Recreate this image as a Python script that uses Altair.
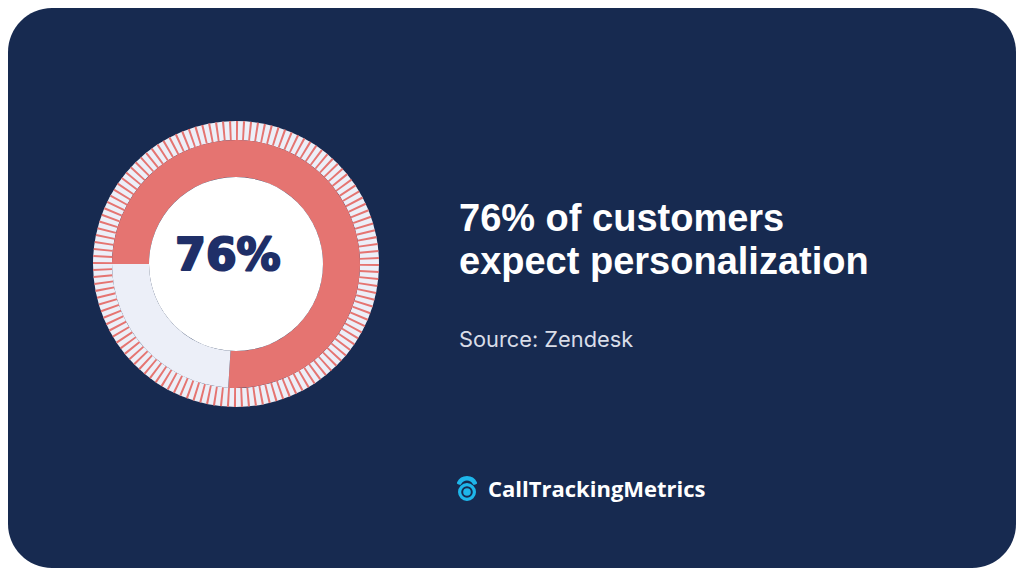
import altair as alt
import pandas as pd

# ---- data ----
categories = ["Expect personalization", "Other"]
shares = [76, 24]
center_label = ["76%"]
headline = ["76% of customers", "expect personalization"]
source_label = ["Source: Zendesk"]
brand = ["CallTrackingMetrics"]
n_ticks = 128
tick_index = list(range(n_ticks))

# ---- styles ----
W, H = 1008, 560
NAVY = "#172A50"
RED = "#E57471"
LIGHT = "#ECEFF8"
TEXT_NAVY = "#1F2F68"
CYAN = "#1EB6EA"
CX, CY = 228, 256
TAU = 6.283185307

one = pd.DataFrame({"k": [0]})

bg = alt.Chart(one).mark_rect(color=NAVY, cornerRadius=44).encode(
    x=alt.value(0), x2=alt.value(W), y=alt.value(0), y2=alt.value(H)
)

ring = alt.Chart(one).mark_arc(
    outerRadius=143, innerRadius=124, theta=0, theta2=TAU, color=LIGHT
).encode(x=alt.value(CX), y=alt.value(CY))

tick_df = pd.DataFrame({"t": tick_index})
ticks = alt.Chart(tick_df).transform_calculate(t2="datum.t + 0.3").mark_arc(
    outerRadius=143, innerRadius=124, color=RED
).encode(
    theta=alt.Theta("t:Q", scale=alt.Scale(domain=[0, n_ticks], range=[0, TAU])),
    theta2="t2:Q",
    x=alt.value(CX), y=alt.value(CY),
)

donut_df = pd.DataFrame({"category": categories, "share": shares, "rank": [0, 1]})
donut = alt.Chart(donut_df).mark_arc(outerRadius=124, innerRadius=87).encode(
    theta=alt.Theta("share:Q", stack=True,
                    scale=alt.Scale(domain=[0, sum(shares)], range=[4.712389, 4.712389 + TAU])),
    color=alt.Color("category:N", scale=alt.Scale(domain=categories, range=[RED, LIGHT]), legend=None),
    order=alt.Order("rank:Q"),
    x=alt.value(CX), y=alt.value(CY),
)

hole = alt.Chart(one).mark_arc(
    outerRadius=87, innerRadius=0, theta=0, theta2=TAU, color="white"
).encode(x=alt.value(CX), y=alt.value(CY))

center = alt.Chart(pd.DataFrame({"label": center_label})).mark_text(
    font="DejaVu Sans", fontWeight="bold", fontSize=44, color=TEXT_NAVY,
    stroke=TEXT_NAVY, strokeWidth=2.2, strokeJoin="round",
    align="center", baseline="alphabetic"
).encode(text="label:N", x=alt.value(220), y=alt.value(262))

title_df = pd.DataFrame({"line": headline, "row": [0, 1]})
title = alt.Chart(title_df).transform_calculate(
    ypix="223 + datum.row * 42.5"
).mark_text(
    font="Liberation Sans", fontWeight="bold", fontSize=38, color="white",
    align="left", baseline="alphabetic"
).encode(
    text="line:N", x=alt.value(451),
    y=alt.Y("ypix:Q", scale=None, axis=None),
)

source = alt.Chart(pd.DataFrame({"label": source_label})).mark_text(
    font="Inter", fontWeight=400, fontSize=21.8, color="#D9DDE8",
    align="left", baseline="alphabetic"
).encode(text="label:N", x=alt.value(451), y=alt.value(339))

# logo icon
icon_top = alt.Chart(one).mark_arc(
    outerRadius=11, innerRadius=6.5, theta=5.0, theta2=7.566, color=CYAN, cornerRadius=1.5
).encode(x=alt.value(459), y=alt.value(479))
icon_ring = alt.Chart(one).mark_arc(
    outerRadius=9, innerRadius=5.8, theta=0, theta2=TAU, color=CYAN
).encode(x=alt.value(459), y=alt.value(484))
icon_dot = alt.Chart(one).mark_arc(
    outerRadius=3.8, innerRadius=0, theta=0, theta2=TAU, color=CYAN
).encode(x=alt.value(459), y=alt.value(484))

logo = alt.Chart(pd.DataFrame({"label": brand})).mark_text(
    font="Open Sans", fontWeight="bold", fontSize=22, color="white",
    align="left", baseline="alphabetic"
).encode(text="label:N", x=alt.value(480), y=alt.value(489))

chart = alt.layer(
    bg, ring, ticks, donut, hole, center, title, source, icon_top, icon_ring, icon_dot, logo
).resolve_scale(theta="independent").properties(
    width=W, height=H, autosize=alt.AutoSizeParams(type="fit", contains="padding"),
    padding=0, background="white"
).configure_view(stroke=None)

chart.save("out.html", embed_options={"renderer": "svg", "actions": False})
